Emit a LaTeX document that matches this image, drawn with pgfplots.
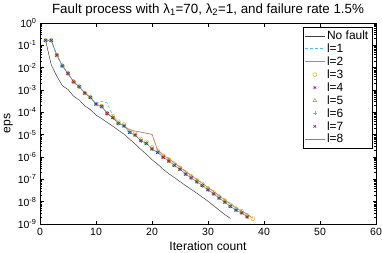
\documentclass[border=0pt]{standalone}
\usepackage{fontspec}
\setmainfont{Liberation Sans}
\usepackage{pgfplots}
\usepackage{pgfplotstable}
\pgfplotsset{compat=1.18}

\definecolor{c1}{rgb}{0,0.447,0.741}
\definecolor{c2}{rgb}{0.85,0.325,0.098}
\definecolor{c3}{rgb}{0.929,0.694,0.125}
\definecolor{c4}{rgb}{0.494,0.184,0.556}
\definecolor{c5}{rgb}{0.466,0.674,0.188}
\definecolor{c6}{rgb}{0.301,0.745,0.933}
\definecolor{c7}{rgb}{0.635,0.078,0.184}
\definecolor{c8}{rgb}{0.25,0.6,0.85}
\definecolor{cl2}{rgb}{0.95,0.45,0.25}

\pgfplotstableread{
x y
1 0.166
2 0.166
3 0.0363
4 0.0120
5 5.50e-3
6 2.34e-3
7 1.41e-3
8 7.24e-4
9 4.68e-4
10 2.34e-4
11 1.86e-4
12 8.91e-5
13 5.75e-5
14 3.24e-5
15 2.45e-5
16 1.26e-5
17 9.55e-6
18 5.37e-6
19 4.07e-6
20 2.29e-6
21 1.62e-6
22 9.77e-7
23 6.61e-7
24 4.27e-7
25 2.82e-7
26 1.70e-7
27 1.17e-7
28 7.76e-8
29 5.25e-8
30 3.39e-8
31 2.24e-8
32 1.45e-8
33 9.55e-9
34 6.17e-9
35 4.17e-9
36 3.16e-9
37 2.09e-9
}\base

\pgfplotstableread{
x y
1 0.166
2 1.35e-2
3 4.17e-3
4 1.55e-3
5 1.05e-3
6 5.25e-4
7 3.55e-4
8 1.95e-4
9 1.32e-4
10 7.59e-5
11 5.25e-5
12 3.55e-5
13 2.40e-5
14 1.58e-5
15 1.05e-5
16 6.31e-6
17 3.80e-6
18 2.19e-6
19 1.32e-6
20 7.59e-7
21 4.79e-7
22 2.82e-7
23 1.78e-7
24 1.20e-7
25 7.94e-8
26 5.25e-8
27 3.55e-8
28 2.40e-8
29 1.58e-8
30 1.05e-8
31 6.61e-9
32 4.17e-9
33 2.63e-9
34 1.78e-9
}\nofault

\pgfplotstableread{
x y
1 0.166
2 0.166
3 0.0363
4 0.0120
5 5.50e-3
6 2.34e-3
7 1.41e-3
8 7.24e-4
9 4.68e-4
10 2.34e-4
11 3.16e-4
12 2.63e-4
13 7.08e-5
14 3.55e-5
15 2.63e-5
16 1.58e-5
17 1.38e-5
18 1.26e-5
19 1.15e-5
20 1.00e-5
21 2.19e-6
22 1.26e-6
23 8.71e-7
24 5.62e-7
25 3.72e-7
26 2.29e-7
27 1.55e-7
28 1.02e-7
29 6.92e-8
30 4.47e-8
31 2.95e-8
32 1.91e-8
33 1.26e-8
34 8.13e-9
35 5.50e-9
36 3.98e-9
37 2.75e-9
38 1.91e-9
}\lone

\pgfplotstableread{
x y
1 0.166
2 0.166
3 0.0363
4 0.0120
5 5.50e-3
6 2.34e-3
7 1.41e-3
8 7.24e-4
9 4.68e-4
10 2.34e-4
11 1.86e-4
12 8.91e-5
13 5.75e-5
14 3.24e-5
15 2.45e-5
16 1.66e-5
17 1.45e-5
18 1.32e-5
19 1.17e-5
20 1.05e-5
21 2.00e-6
22 1.20e-6
23 8.32e-7
24 5.37e-7
25 3.55e-7
26 2.19e-7
27 1.48e-7
28 9.77e-8
29 6.61e-8
30 4.27e-8
31 2.82e-8
32 1.82e-8
33 1.20e-8
34 7.76e-9
35 5.25e-9
36 3.80e-9
37 2.63e-9
38 1.82e-9
}\ltwo

\pgfplotstableread{
x y
1 0.166
2 0.166
3 0.0363
4 0.0120
5 5.50e-3
6 2.34e-3
7 1.41e-3
8 7.24e-4
9 4.68e-4
10 2.34e-4
11 1.86e-4
12 8.91e-5
13 6.76e-5
14 3.80e-5
15 2.88e-5
16 1.48e-5
17 1.12e-5
18 6.31e-6
19 4.79e-6
20 2.69e-6
21 1.91e-6
22 1.15e-6
23 7.76e-7
24 5.01e-7
25 3.31e-7
26 2.00e-7
27 1.38e-7
28 9.12e-8
29 6.17e-8
30 3.98e-8
31 2.63e-8
32 1.70e-8
33 1.12e-8
34 7.24e-9
35 4.90e-9
36 3.72e-9
37 2.45e-9
38 1.74e-9
}\lthree

\begin{document}
\begin{tikzpicture}
\begin{axis}[
  scale only axis,
  width=336bp, height=201bp,
  ymode=log,
  xmin=0, xmax=60, ymin=1e-9, ymax=1,
  xtick={0,10,...,60},
  ytickten={-9,...,0},
  yticklabels={10\textsuperscript{-9},10\textsuperscript{-8},10\textsuperscript{-7},10\textsuperscript{-6},10\textsuperscript{-5},10\textsuperscript{-4},10\textsuperscript{-3},10\textsuperscript{-2},10\textsuperscript{-1},10\textsuperscript{0}},
  /pgf/number format/assume math mode=true,
  tick align=inside,
  major tick length=3.5bp, minor tick length=2bp,
  every tick/.style={black, line width=0.4pt},
  axis line style={black, line width=0.5pt},
  ticklabel style={font=\fontsize{10.5}{12}\selectfont},
  xticklabel style={yshift=-1bp},
  xlabel={Iteration count},
  ylabel={eps},
  label style={font=\fontsize{12.2}{14}\selectfont},
  xlabel style={yshift=1.5bp},
  ylabel style={yshift=-2bp},
  title={Fault process with λ\textsubscript{1}=70, λ\textsubscript{2}=1, and failure rate 1.5\%},
  title style={font=\fontsize{13.4}{15}\selectfont, yshift=-3bp},
  legend cell align=left,
  legend style={at={(rel axis cs:0.988,0.98)}, anchor=north east,
    font=\fontsize{12}{13}\selectfont,
    inner sep=1.5pt, row sep=-1.2pt},
  legend image code/.code={\draw[mark repeat=2,mark phase=2] plot coordinates {(0cm,0cm) (0.35cm,0cm) (0.7cm,0cm)};},
  every axis plot/.append style={line width=0.5pt},
  mark size=1.8pt,
]
\coordinate (BL) at (rel axis cs:0,0);
\coordinate (TR) at (rel axis cs:1,1);
\addplot[draw=black!75, no markers] table {\nofault};
\addlegendentry{No fault}
\addplot[draw=c6, line width=0.6pt, dashed, dash pattern=on 3pt off 2pt, no markers] table {\lone};
\addlegendentry{l=1}
\addplot[draw=cl2, line width=0.6pt, no markers] table {\ltwo};
\addlegendentry{l=2}
\addplot[color=c3, only marks, mark=o, mark size=2pt] table {\lthree};
\addlegendentry{l=3}
\addplot[color=c4, only marks, mark=asterisk, mark size=1.8pt] table {\base};
\addlegendentry{l=4}
\addplot[color=c5, only marks, mark=triangle, mark size=2pt] table {\base};
\addlegendentry{l=5}
\addplot[color=c6, only marks, mark=+, mark size=2pt, mark options={line width=0.6pt}] table {\base};
\addlegendentry{l=6}
\addplot[color=c7, only marks, mark=x, mark size=2pt] table {\base};
\addlegendentry{l=7}
\addplot[draw=c8, line width=0.6pt, no markers] table {\base};
\addlegendentry{l=8}
\end{axis}
\pgfresetboundingbox
\path ([shift={(-40bp,-28bp)}]BL) rectangle ([shift={(6bp,23bp)}]TR);
\end{tikzpicture}
\end{document}
